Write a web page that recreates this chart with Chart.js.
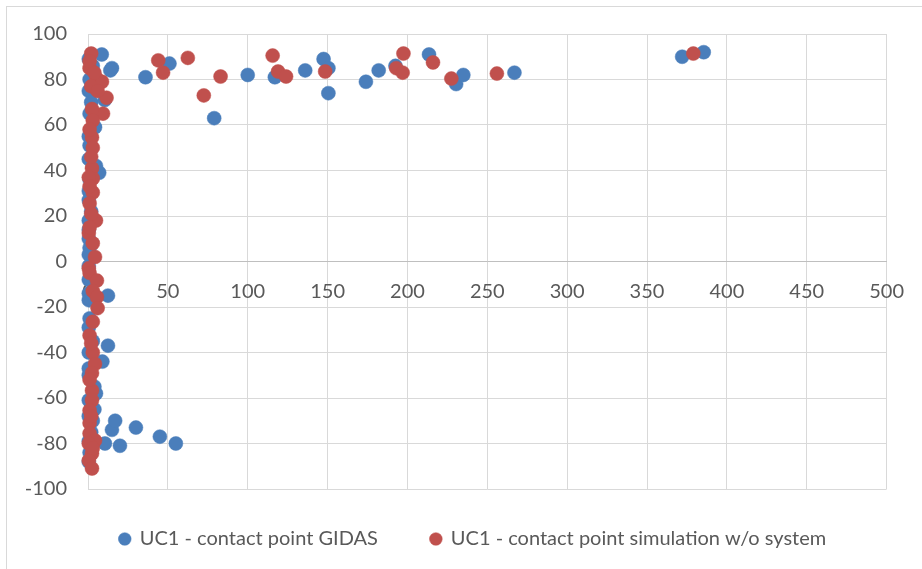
<!DOCTYPE html>
<html>
<head>
<meta charset="utf-8">
<script src="https://cdn.jsdelivr.net/npm/chart.js@4/dist/chart.umd.min.js"></script>
<style>
  body { margin: 0; background: #fff; overflow: hidden; }
  #frame { position: absolute; left: 6px; top: 6px; width: 960px; height: 600px; border-left: 1px solid #d9d9d9; border-top: 1px solid #d9d9d9; }
  #ContactPoints { position: absolute; left: 0; top: 0; }
</style>
</head>
<body>
<div id="frame"></div>
<canvas id="ContactPoints" width="922" height="569"></canvas>
<script>
// UC1 - contact point GIDAS
const gidasX = [0.5, 3, 1, 0.5, 2, 10.5, 1, 4.4, 0.5, 1, 0.5, 5, 7, 1, 0.5, 0.5, 2, 0.5, 0.5, 0.5, 1, 0.5, 0.5, 0.5, 0.5, 0.5, 12.5, 1, 0.5, 3, 12.5, 0.5, 9, 0.5, 0.5, 4, 5, 0.5, 4, 0.5, 3, 2, 0.5, 1, 0.5,
    8.6, 15, 14, 36, 51, 79, 100, 117, 136, 147.5, 150.5, 150.5, 174, 182, 192.5, 213.5, 230.5, 235, 267, 372, 385.5,
    10.6, 15, 17, 20, 30, 45, 55];
const gidasY = [89, 86, 80, 75, 70, 71, 65, 59, 55, 51, 45, 42, 39, 36, 31, 27, 22, 18, 14, 10, 6, 3, -2, -8, -14, -17, -15, -25, -29, -35, -37, -40, -44, -47, -50, -55, -58, -61, -65, -68, -70, -75, -79, -84, -88,
    91, 85, 84, 81, 87, 63, 82, 81, 84, 89, 85, 74, 79, 84, 86, 91, 78, 82, 83, 90, 92,
    -80, -74, -70, -81, -73, -77, -80];

// UC1 - contact point simulation w/o system
const simX = [2, 1, 5.5, 8.75, 11.6, 9.4, 2.5, 3, 2.5, 3, 2.5, 3, 0.5, 3, 1, 5, 0.5, 3, 4.4, 0.5, 1, 5.6, 3, 5.6, 6, 3, 1, 3, 4.4, 2.5, 2.5, 2.5, 1, 1, 1, 4.4, 0.5, 2.5, 0.5, 2.5,
    1, 4, 2, 6, 1, 2, 1, 2, 1, 2, 1, 2, 3,
    44, 47, 62.5, 72.5, 83, 115.6, 119, 124, 148.5, 193, 197.5, 197, 216, 227.5, 256, 379];
const simY = [91.4, 85, 80.4, 79, 72, 65, 67, 62, 54.5, 50, 41, 36.5, 37, 30.3, 25.5, 18, 12.5, 8, 2, -3, -5, -8.4, -13, -15.6, -20.5, -26.5, -32.5, -40, -45, -49, -56.7, -61, -65.5, -71, -75.6, -78.7, -80, -84.4, -87.5, -91,
    88, 83, 77, 75, 58, 46, 33, 21, 15, -36, -52, -68, -82,
    88.4, 83, 89.5, 73, 81.3, 90.5, 83.5, 81.3, 83.5, 85, 91.4, 83, 87.5, 80.4, 82.6, 91.4];

const xTicks = [0, 50, 100, 150, 200, 250, 300, 350, 400, 450, 500];
const yTicks = [-100, -80, -60, -40, -20, 0, 20, 40, 60, 80, 100];

const toPoints = (xs, ys) => xs.map((x, i) => ({x: x, y: ys[i]}));

const font = { family: 'Lato', size: 20 };

// the original chart is wider than the picture, so its legend sits right of centre
const shiftLegend = {
    id: 'shiftLegend',
    afterLayout(chart) {
        chart.legend.left += 58;
        chart.legend.top -= 13;
    }
};

new Chart(document.getElementById('ContactPoints'),
{
    type: 'scatter',
    data: {
        datasets: [
            {
                label: 'UC1 - contact point GIDAS',
                data: toPoints(gidasX, gidasY),
                backgroundColor: '#4a7ebb',
                borderColor: '#4a7ebb',
                borderWidth: 0.5,
                pointRadius: 7,
                clip: false,
                order: 2
            },
            {
                label: 'UC1 - contact point simulation w/o system',
                data: toPoints(simX, simY),
                backgroundColor: '#c0504d',
                borderColor: '#c0504d',
                borderWidth: 0.5,
                pointRadius: 7,
                clip: false,
                order: 1
            }
        ]
    },
    plugins: [shiftLegend],
    options: {
        responsive: false,
        animation: false,
        layout: {
            padding: { left: 0, right: 34, top: 34, bottom: -3 }
        },
        scales: {
            x: {
                type: 'linear',
                position: { y: 0 },
                min: xTicks[0],
                max: xTicks[xTicks.length - 1],
                afterBuildTicks: (scale) => { scale.ticks = xTicks.map(v => ({value: v})); },
                grid: { color: '#d9d9d9', drawTicks: false },
                border: { color: '#bfbfbf' },
                ticks: { color: '#595959', font: font, padding: 18, maxRotation: 0 }
            },
            y: {
                type: 'linear',
                min: yTicks[0],
                max: yTicks[yTicks.length - 1],
                afterBuildTicks: (scale) => { scale.ticks = yTicks.map(v => ({value: v})); },
                afterFit: (scale) => { scale.width = 88; },
                grid: { color: '#d9d9d9', drawTicks: false },
                border: { color: '#d9d9d9' },
                ticks: { color: '#595959', font: font, padding: 21 }
            }
        },
        plugins: {
            legend: {
                position: 'bottom',
                labels: {
                    usePointStyle: true,
                    pointStyle: 'circle',
                    boxWidth: 10,
                    boxHeight: 9,
                    padding: 53,
                    color: '#595959',
                    font: font,
                    sort: (a, b) => a.datasetIndex - b.datasetIndex
                }
            },
            tooltip: { enabled: false }
        }
    }
});
</script>
</body>
</html>
